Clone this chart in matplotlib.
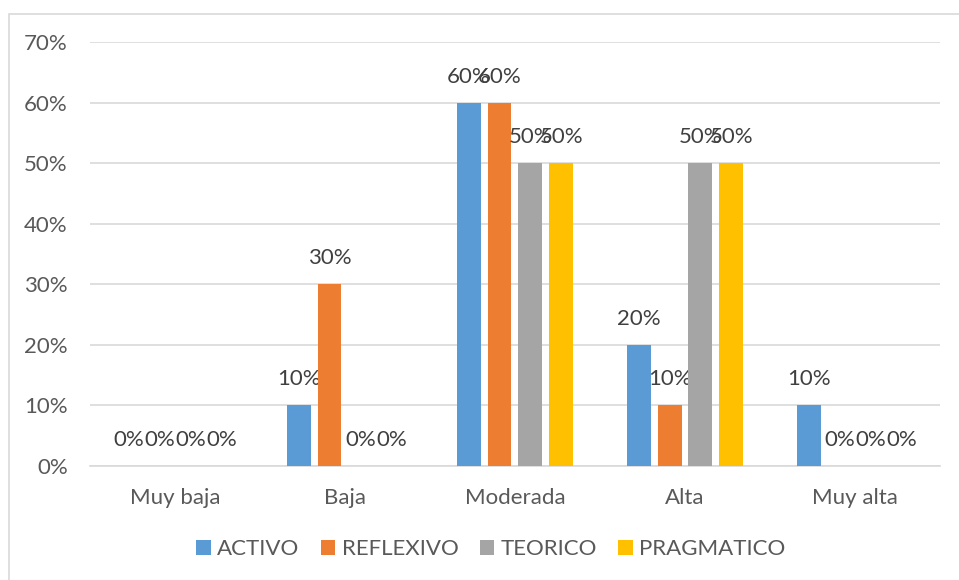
import numpy as np
import matplotlib.pyplot as plt
from matplotlib.patches import Rectangle
from matplotlib.ticker import FuncFormatter

categories = ["Muy baja", "Baja", "Moderada", "Alta", "Muy alta"]
series = ["ACTIVO", "REFLEXIVO", "TEORICO", "PRAGMATICO"]
activo = [0, 10, 60, 20, 10]
reflexivo = [0, 30, 60, 10, 0]
teorico = [0, 0, 50, 50, 0]
pragmatico = [0, 0, 50, 50, 0]
colors = ["#5B9BD5", "#ED7D31", "#A5A5A5", "#FFC000"]

plt.rcParams["font.family"] = ["Lato", "DejaVu Sans"]

fig = plt.figure(figsize=(9.59, 5.80), dpi=100)
ax = fig.add_axes([0.0938, 0.1966, 0.8864, 0.731])

# chart border (cropped screenshot: only left and top visible)
fig.patches.append(Rectangle((9 / 959, -0.1), 1.2, 1.1 - 14 / 580, transform=fig.transFigure,
                             fill=False, edgecolor="#D9D9D9", lw=1.2))

x = np.arange(len(categories))
width, step = 0.141, 0.182
for i, (name, vals) in enumerate(zip(series, [activo, reflexivo, teorico, pragmatico])):
    pos = x + (i - 1.5) * step
    ax.bar(pos, vals, width, color=colors[i], label=name, zorder=3)
    for px, v in zip(pos, vals):
        ax.annotate(f"{v}%", (px, v), xytext=(0, 16), textcoords="offset pixels",
                    ha="center", va="bottom", fontsize=16, color="#404040")

ax.set_xlim(-0.5, 4.5)
ax.set_ylim(0, 70)
ax.set_yticks(range(0, 71, 10))
ax.yaxis.set_major_formatter(FuncFormatter(lambda v, _: f"{v:.0f}%"))
ax.set_xticks(x)
ax.set_xticklabels(categories)
ax.grid(axis="y", color="#D9D9D9", lw=1.2, zorder=0)
for s in ["top", "right", "left"]:
    ax.spines[s].set_visible(False)
ax.spines["bottom"].set_color("#D9D9D9")
ax.spines["bottom"].set_linewidth(1.2)
ax.tick_params(length=0, labelsize=16, labelcolor="#595959")
ax.tick_params(axis="y", pad=16)
ax.tick_params(axis="x", pad=16)

leg = fig.legend(loc="center", bbox_to_anchor=(0.512, 1 - 549 / 580), ncol=4, frameon=False,
                 fontsize=16, handlelength=0.65, handleheight=0.65, handletextpad=0.3,
                 columnspacing=0.95)
for t in leg.get_texts():
    t.set_color("#595959")

fig.savefig("out.png", dpi=100)
